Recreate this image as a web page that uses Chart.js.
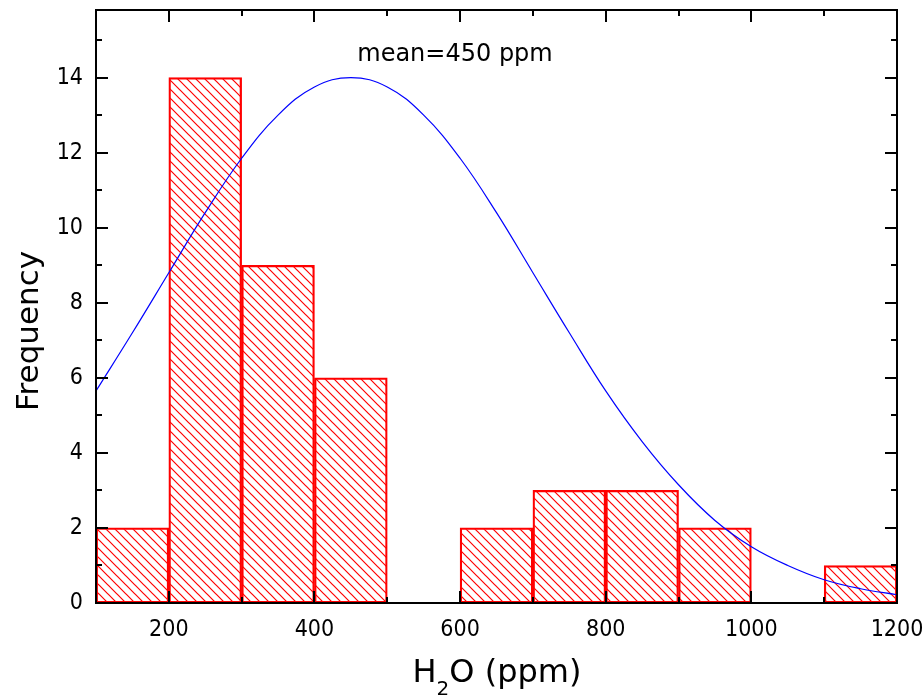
<!DOCTYPE html>
<html>
<head>
<meta charset="utf-8">
<script src="https://cdn.jsdelivr.net/npm/chart.js@4/dist/chart.umd.min.js"></script>
<style>
  html, body { margin: 0; padding: 0; background: #fff; }
</style>
</head>
<body>
<canvas id="chart" width="924" height="698"></canvas>
<script>
// histogram bins (centre of each 100 ppm bin) and counts
const binCenters = [150, 250, 350, 450, 550, 650, 750, 850, 950, 1050, 1150];
const binCounts  = [2, 14, 9, 6, 0, 2, 3, 3, 2, 0, 1];

// fitted normal curve
const curveX = [100, 150, 200, 250, 300, 350, 400, 450, 500, 550, 600, 650,
                700, 750, 800, 850, 900, 950, 1000, 1050, 1100, 1150, 1200];
const curveY = [5.65, 7.2, 8.8, 10.4, 11.85, 13.0, 13.75, 14.0, 13.75, 13.0, 11.85, 10.4,
                8.8, 7.2, 5.65, 4.3, 3.15, 2.2, 1.5, 1.0, 0.62, 0.38, 0.22];

const xTicks = [200, 400, 600, 800, 1000, 1200];
const xMinor = [300, 500, 700, 900, 1100];
const yTicks = [0, 2, 4, 6, 8, 10, 12, 14];
const yMinor = [1, 3, 5, 7, 9, 11, 13, 15];

const meanLabel = "mean=450 ppm";
const xTitle = ["H", "2", "O (ppm)"];
const yTitle = "Frequency";

const tickFont = { family: "'DejaVu Sans Condensed', 'DejaVu Sans', sans-serif", size: 23 };

// ----------------------
// hatch pattern for the bars
// ----------------------
function makeHatch() {
  const s = 9;
  const c = document.createElement("canvas");
  c.width = s; c.height = s;
  const g = c.getContext("2d");
  g.strokeStyle = "#ff0000";
  g.lineWidth = 1.2;
  g.beginPath();
  for (let k = -1; k <= 1; k++) {
    g.moveTo(k * s - 2, -2);
    g.lineTo(k * s + s + 2, s + 2);
  }
  g.stroke();
  return g.createPattern(c, "repeat");
}

// ----------------------
// frame, inward ticks and texts
// ----------------------
const framePlugin = {
  id: "frame",
  afterDatasetsDraw(chart) {
    const ctx = chart.ctx;
    const a = chart.chartArea;
    const xs = chart.scales.x, ys = chart.scales.y;
    ctx.save();
    ctx.strokeStyle = "#000";
    ctx.lineWidth = 2;
    ctx.strokeRect(a.left, a.top, a.right - a.left, a.bottom - a.top);

    const major = 12, minor = 6;
    ctx.beginPath();
    const vTick = (v, len) => {
      const px = Math.round(xs.getPixelForValue(v));
      ctx.moveTo(px, a.bottom); ctx.lineTo(px, a.bottom - len);
      ctx.moveTo(px, a.top); ctx.lineTo(px, a.top + len);
    };
    const hTick = (v, len) => {
      const py = Math.round(ys.getPixelForValue(v));
      ctx.moveTo(a.left, py); ctx.lineTo(a.left + len, py);
      ctx.moveTo(a.right, py); ctx.lineTo(a.right - len, py);
    };
    xTicks.forEach(v => vTick(v, major));
    xMinor.forEach(v => vTick(v, minor));
    yTicks.forEach(v => hTick(v, major));
    yMinor.forEach(v => hTick(v, minor));
    ctx.stroke();

    ctx.fillStyle = "#000";
    // annotation
    ctx.font = "24px 'DejaVu Sans', sans-serif";
    ctx.textAlign = "center";
    ctx.textBaseline = "alphabetic";
    ctx.fillText(meanLabel, 455, 61);

    // x title with subscript
    const big = "32px 'DejaVu Sans', sans-serif";
    const small = "20px 'DejaVu Sans', sans-serif";
    ctx.font = big;
    const w1 = ctx.measureText(xTitle[0]).width;
    const w3 = ctx.measureText(xTitle[2]).width;
    ctx.font = small;
    const w2 = ctx.measureText(xTitle[1]).width;
    let x0 = 497 - (w1 + w2 + w3) / 2;
    ctx.textAlign = "left";
    ctx.font = big;
    ctx.fillText(xTitle[0], x0, 682);
    ctx.font = small;
    ctx.fillText(xTitle[1], x0 + w1, 695);
    ctx.font = big;
    ctx.fillText(xTitle[2], x0 + w1 + w2, 682);

    // y title
    ctx.save();
    ctx.translate(38, 331);
    ctx.rotate(-Math.PI / 2);
    ctx.textAlign = "center";
    ctx.font = "31px 'DejaVu Sans', sans-serif";
    ctx.fillText(yTitle, 0, 0);
    ctx.restore();

    ctx.restore();
  }
};

const barData = [];
binCenters.forEach((x, i) => {
  if (binCounts[i] > 0) barData.push({ x: x, y: binCounts[i] });
});
const lineData = curveX.map((x, i) => ({ x: x, y: curveY[i] }));

new Chart(document.getElementById("chart"), {
  type: "bar",
  data: {
    datasets: [
      {
        type: "line",
        data: lineData,
        borderColor: "#0000ff",
        borderWidth: 1.2,
        pointRadius: 0,
        fill: false,
        tension: 0.4,
        order: 0
      },
      {
        type: "bar",
        data: barData,
        backgroundColor: makeHatch(),
        borderColor: "#ff0000",
        borderWidth: 1.6,
        borderSkipped: false,
        barPercentage: 1,
        categoryPercentage: 1,
        order: 1
      }
    ]
  },
  options: {
    responsive: false,
    animation: false,
    devicePixelRatio: 1,
    layout: { padding: { top: 10, right: 27, left: 0, bottom: 0 } },
    plugins: { legend: { display: false }, tooltip: { enabled: false } },
    scales: {
      x: {
        type: "linear",
        offset: false,
        min: 100,
        max: 1200,
        grid: { display: false, offset: false },
        border: { display: false },
        afterBuildTicks: s => { s.ticks = xTicks.map(v => ({ value: v })); },
        afterFit: s => { s.height = 95; s.paddingLeft = 0; s.paddingRight = 0; },
        ticks: {
          color: "#000", font: tickFont, padding: 5, maxRotation: 0, autoSkip: false,
          callback: v => String(v)
        }
      },
      y: {
        min: 0,
        max: 15.8,
        grid: { display: false },
        border: { display: false },
        afterBuildTicks: s => { s.ticks = yTicks.map(v => ({ value: v })); },
        afterFit: s => { s.width = 96; s.paddingTop = 0; s.paddingBottom = 0; },
        ticks: { color: "#000", font: tickFont, padding: 5, callback: v => String(v) }
      }
    }
  },
  plugins: [framePlugin]
});
</script>
</body>
</html>
